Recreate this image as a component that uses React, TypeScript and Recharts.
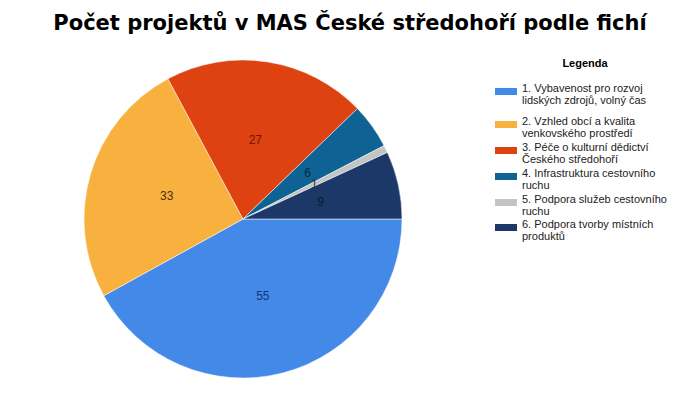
import React from 'react';
import { PieChart, Pie, Cell } from 'recharts';

const fiche = [
  '1. Vybavenost pro rozvoj lidských zdrojů, volný čas',
  '2. Vzhled obcí a kvalita venkovského prostředí',
  '3. Péče o kulturní dědictví Českého středohoří',
  '4. Infrastruktura cestovního ruchu',
  '5. Podpora služeb cestovního ruchu',
  '6. Podpora tvorby místních produktů',
];
const legendLines = [
  ['1. Vybavenost pro rozvoj', 'lidských zdrojů, volný čas'],
  ['2. Vzhled obcí a kvalita', 'venkovského prostředí'],
  ['3. Péče o kulturní dědictví', 'Českého středohoří'],
  ['4. Infrastruktura cestovního', 'ruchu'],
  ['5. Podpora služeb cestovního', 'ruchu'],
  ['6. Podpora tvorby místních', 'produktů'],
];
const projekty = [55, 33, 27, 6, 1, 9];

const colors = ['#4289e8', '#f8b13f', '#dd4210', '#0e6394', '#c4c4c4', '#1c3868'];
const labelColors = ['#1c3470', '#4a3010', '#6e1606', '#0a2440', '#333333', '#0b1830'];

const data = fiche.map((name, i) => ({ name, value: projekty[i] }));

const RAD = Math.PI / 180;

function renderLabel(props: any) {
  const { cx, cy, midAngle, outerRadius, index, value } = props;
  const r = outerRadius * 0.5;
  const x = cx + r * Math.cos(midAngle * RAD);
  const y = cy - r * Math.sin(midAngle * RAD);
  return (
    <text x={x} y={y} fill={labelColors[index]} fontSize={12} fontFamily="Liberation Sans, Arial, sans-serif"
      textAnchor="middle" dominantBaseline="central">
      {value}
    </text>
  );
}

function LegendBox() {
  const tops = [82, 115, 141, 167, 193, 218];
  return (
    <div style={{ position: 'absolute', left: 495, top: 57, width: 200, height: 200, fontFamily: 'Liberation Sans, Arial, sans-serif' }}>
      <div style={{ position: 'absolute', left: 40, top: 0, width: 100, textAlign: 'center', fontWeight: 'bold', fontSize: 11 }}>
        Legenda
      </div>
      {legendLines.map((lines, i) => (
        <div key={i} style={{ position: 'absolute', left: 0, top: tops[i] - 57 }}>
          <div style={{ position: 'absolute', left: 0, top: 6, width: 22, height: 7, background: colors[i] }} />
          <div style={{ position: 'absolute', left: 27, top: 0, width: 180, fontSize: 11, lineHeight: '12px', color: '#222', whiteSpace: 'nowrap' }}>
            {lines[0]}<br />{lines[1]}
          </div>
        </div>
      ))}
    </div>
  );
}

export default function App() {
  return (
    <div style={{ position: 'absolute', left: 0, top: 0, width: 700, height: 398, background: '#fff' }}>
      <div style={{ position: 'absolute', left: 0, top: 11, width: 700, textAlign: 'center', fontFamily: 'DejaVu Sans, Verdana, sans-serif', fontWeight: 'bold', fontSize: 21, color: '#000' }}>
        Počet projektů v MAS České středohoří podle fichí
      </div>
      <PieChart width={700} height={398} margin={{ top: 0, right: 0, bottom: 0, left: 0 }}>
        <Pie
          data={data}
          dataKey="value"
          nameKey="name"
          cx={243}
          cy={219}
          outerRadius={159}
          startAngle={0}
          endAngle={-360}
          stroke="#ffffff"
          strokeWidth={0.5}
          label={renderLabel}
          labelLine={false}
          isAnimationActive={false}
        >
          {data.map((d, i) => (
            <Cell key={d.name} fill={colors[i]} />
          ))}
        </Pie>
      </PieChart>
      <LegendBox />
    </div>
  );
}
